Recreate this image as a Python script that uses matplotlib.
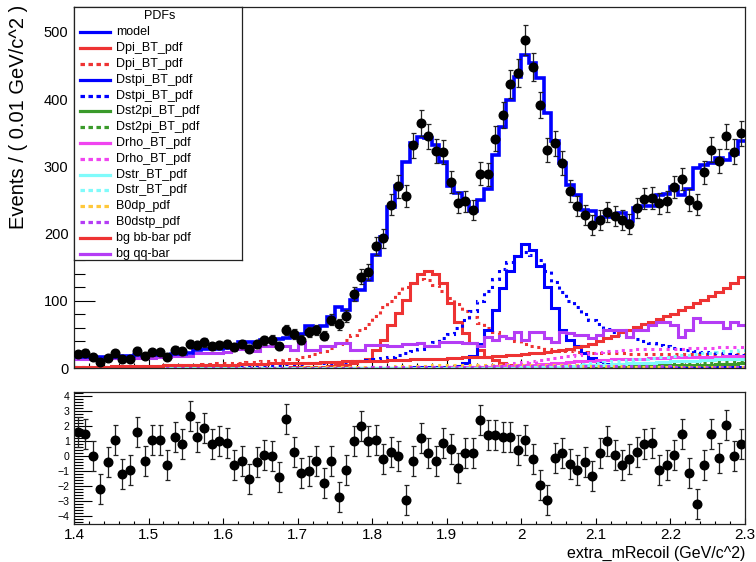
import numpy as np
import matplotlib
matplotlib.use("Agg")
import matplotlib.pyplot as plt
from matplotlib.ticker import MultipleLocator, FuncFormatter

plt.rcParams['font.family'] = ['Liberation Sans', 'DejaVu Sans']

# ---------------------------------------------------------------- data ----
x_lo, x_hi, n_bins = 1.4, 2.3, 90
edges = np.round(np.linspace(x_lo, x_hi, n_bins + 1), 4)
centers = 0.5 * (edges[:-1] + edges[1:])

data = [21, 23, 17, 9, 15, 22, 13, 14, 26, 18,
        24, 24, 16, 27, 25, 35, 34, 38, 32, 34,
        35, 31, 36, 29, 35, 41, 42, 32, 56, 51,
        42, 54, 57, 48, 72, 65, 77, 110, 136, 143,
        182, 193, 243, 270, 256, 331, 364, 345, 323, 321,
        277, 246, 248, 235, 289, 288, 341, 377, 422, 439,
        488, 448, 391, 324, 334, 305, 263, 241, 228, 213,
        220, 232, 226, 220, 214, 238, 252, 253, 245, 248,
        269, 281, 250, 243, 291, 325, 308, 345, 322, 349]

model = [16, 16, 16, 16, 17, 17, 18, 18, 19, 19,
         19, 19, 19, 21, 21, 22, 27, 28, 28, 29,
         30, 34, 38, 38, 37, 41, 42, 43, 44, 49,
         50, 62, 60, 62, 76, 91, 86, 101, 116, 131,
         168, 195, 240, 270, 307, 335, 344, 342, 332, 307,
         270, 260, 247, 233, 250, 267, 317, 359, 399, 433,
         466, 453, 431, 379, 337, 305, 272, 257, 235, 233,
         218, 225, 228, 230, 218, 238, 241, 241, 257, 259,
         269, 257, 267, 297, 302, 305, 312, 310, 319, 337]

dpi_bt = [0, 0, 0, 0, 0, 0, 0, 0, 0, 0,
          0, 0, 0, 0, 0, 0, 0, 0, 0, 0,
          0, 0, 0, 0, 0, 0, 0, 0, 0, 1,
          1, 1, 2, 2, 3, 4, 5, 7, 10, 14,
          27, 42, 64, 82, 101, 126, 140, 145, 140, 126,
          97, 69, 52, 37, 27, 17, 12, 8, 5, 3,
          2, 2, 1, 1, 1, 0, 0, 0, 0, 0,
          0, 0, 0, 0, 0, 0, 0, 0, 0, 0,
          0, 0, 0, 0, 0, 0, 0, 0, 0, 0]

dpi_bt_alt = [1, 1, 1, 2, 2, 2, 2, 3, 3, 3,
              3, 3, 4, 4, 4, 5, 5, 6, 6, 7,
              7, 8, 8, 9, 9, 10, 11, 12, 13, 14,
              16, 18, 21, 25, 30, 36, 42, 49, 57, 66,
              78, 90, 100, 111, 120, 127, 132, 131, 124, 114,
              104, 95, 85, 76, 67, 59, 53, 48, 44, 40,
              36, 33, 31, 29, 27, 26, 25, 24, 24, 23,
              23, 22, 22, 22, 21, 21, 21, 21, 21, 21,
              21, 21, 21, 21, 21, 21, 21, 21, 21, 21]

dstpi_bt = [0, 0, 0, 0, 0, 0, 0, 0, 0, 0,
            0, 0, 0, 0, 0, 0, 0, 0, 0, 0,
            0, 0, 0, 0, 0, 0, 0, 0, 0, 0,
            0, 0, 0, 0, 0, 0, 0, 0, 0, 0,
            0, 0, 0, 0, 0, 1, 1, 1, 1, 1,
            1, 3, 8, 18, 35, 56, 87, 119, 145, 166,
            184, 176, 151, 121, 89, 57, 42, 32, 22, 15,
            10, 6, 4, 3, 2, 2, 1, 1, 1, 1,
            1, 1, 1, 1, 1, 1, 1, 1, 1, 1]

dstpi_bt_alt = [1, 1, 1, 1, 1, 1, 1, 1, 2, 2,
                2, 2, 2, 2, 2, 3, 3, 3, 3, 3,
                3, 4, 4, 4, 4, 5, 5, 5, 6, 6,
                6, 7, 7, 8, 8, 9, 9, 10, 11, 12,
                13, 15, 17, 19, 22, 25, 28, 33, 38, 44,
                50, 60, 72, 85, 100, 115, 133, 148, 158, 166,
                172, 168, 160, 145, 128, 113, 100, 90, 80, 72,
                65, 58, 53, 49, 46, 43, 40, 37, 34, 32,
                30, 28, 27, 25, 24, 23, 22, 21, 20, 19]

dst2pi_bt = [0, 0, 0, 0, 0, 0, 0, 0, 0, 0,
             0, 0, 0, 0, 0, 0, 0, 0, 0, 0,
             0, 0, 0, 0, 0, 0, 0, 0, 0, 0,
             0, 0, 0, 0, 0, 0, 0, 0, 0, 0,
             0, 0, 0, 0, 0, 0, 0, 0, 0, 0,
             0, 0, 0, 0, 0, 0, 0, 0, 0, 0,
             1, 1, 1, 1, 1, 1, 1, 2, 2, 2,
             2, 2, 2, 3, 3, 3, 3, 3, 4, 4,
             4, 4, 5, 5, 5, 5, 6, 6, 6, 7]

dst2pi_bt_alt = [0, 0, 0, 0, 0, 0, 0, 0, 0, 0,
                 0, 0, 0, 0, 0, 0, 0, 0, 0, 0,
                 0, 0, 0, 0, 0, 0, 0, 0, 0, 0,
                 0, 0, 0, 0, 0, 0, 0, 0, 0, 0,
                 0, 0, 0, 0, 0, 0, 0, 0, 0, 0,
                 1, 1, 1, 1, 1, 2, 2, 2, 2, 2,
                 3, 3, 3, 3, 4, 4, 4, 4, 5, 5,
                 5, 5, 6, 6, 6, 6, 7, 7, 7, 7,
                 8, 8, 8, 8, 8, 9, 9, 9, 9, 9]

drho_bt = [0, 0, 0, 0, 0, 0, 0, 0, 0, 0,
           0, 0, 0, 0, 0, 0, 0, 0, 0, 0,
           0, 0, 0, 0, 0, 0, 0, 0, 0, 0,
           0, 0, 0, 0, 0, 0, 0, 0, 0, 0,
           0, 0, 0, 0, 0, 0, 0, 0, 0, 0,
           1, 1, 1, 2, 2, 2, 3, 3, 3, 4,
           4, 5, 6, 6, 7, 8, 9, 10, 10, 11,
           12, 12, 13, 13, 14, 14, 14, 15, 15, 15,
           16, 16, 16, 17, 17, 17, 17, 18, 18, 18]

drho_bt_alt = [0, 0, 0, 0, 0, 0, 0, 0, 0, 0,
               0, 0, 0, 0, 0, 0, 0, 0, 0, 0,
               0, 0, 0, 0, 0, 0, 0, 0, 0, 0,
               0, 0, 0, 0, 0, 0, 0, 0, 0, 0,
               1, 1, 1, 1, 1, 1, 1, 1, 1, 1,
               1, 1, 2, 2, 3, 3, 4, 5, 6, 8,
               9, 11, 12, 14, 15, 16, 18, 20, 21, 22,
               24, 25, 26, 27, 27, 28, 28, 28, 29, 29,
               29, 29, 30, 30, 30, 30, 31, 31, 31, 31]

dstr_bt = [0, 0, 0, 0, 0, 0, 0, 0, 0, 0,
           0, 0, 0, 0, 0, 0, 0, 0, 0, 0,
           0, 0, 0, 0, 0, 0, 0, 0, 0, 0,
           0, 0, 0, 0, 0, 0, 0, 0, 0, 0,
           0, 0, 0, 0, 0, 0, 0, 0, 0, 0,
           0, 0, 0, 0, 0, 0, 0, 0, 0, 0,
           1, 1, 1, 2, 2, 2, 3, 3, 4, 4,
           5, 5, 6, 6, 7, 7, 8, 8, 9, 9,
           10, 10, 11, 11, 12, 12, 13, 13, 14, 14]

dstr_bt_alt = [0, 0, 0, 0, 0, 0, 0, 0, 0, 0,
               0, 0, 0, 0, 0, 0, 0, 0, 0, 0,
               0, 0, 0, 0, 0, 0, 0, 0, 0, 0,
               0, 0, 0, 0, 0, 0, 0, 0, 0, 0,
               0, 0, 0, 0, 0, 0, 0, 0, 0, 0,
               0, 0, 0, 0, 0, 0, 0, 0, 0, 0,
               1, 2, 2, 3, 3, 4, 5, 5, 6, 7,
               8, 9, 10, 11, 12, 13, 14, 15, 16, 17,
               18, 19, 20, 21, 22, 23, 24, 25, 26, 27]

b0dp = [0, 0, 0, 0, 0, 0, 0, 0, 0, 0,
        0, 0, 0, 0, 0, 0, 0, 0, 0, 0,
        0, 0, 0, 0, 0, 0, 0, 0, 0, 0,
        1, 1, 1, 1, 1, 1, 1, 2, 2, 2,
        2, 2, 2, 3, 3, 3, 3, 3, 4, 4,
        4, 4, 4, 5, 5, 5, 5, 5, 5, 5,
        5, 5, 5, 4, 4, 4, 4, 4, 3, 3,
        3, 3, 3, 3, 2, 2, 2, 2, 2, 2,
        2, 2, 2, 2, 1, 1, 1, 1, 1, 1]

b0dstp = [0, 0, 0, 0, 0, 0, 0, 0, 0, 0,
          0, 0, 0, 0, 0, 0, 0, 0, 0, 0,
          0, 0, 0, 0, 0, 0, 0, 0, 0, 0,
          0, 0, 0, 0, 0, 0, 0, 0, 0, 0,
          1, 1, 1, 1, 1, 1, 1, 1, 1, 2,
          2, 2, 2, 2, 2, 3, 3, 3, 3, 3,
          3, 3, 3, 3, 3, 3, 3, 3, 3, 3,
          3, 3, 3, 3, 3, 3, 3, 3, 3, 3,
          2, 2, 2, 2, 2, 2, 2, 2, 2, 2]

bg_bbbar = [2, 2, 2, 2, 2, 3, 3, 3, 3, 3,
            3, 3, 4, 4, 4, 4, 4, 5, 5, 5,
            5, 5, 6, 6, 6, 6, 7, 7, 7, 7,
            8, 8, 8, 9, 9, 9, 10, 10, 10, 11,
            11, 11, 12, 12, 12, 13, 13, 13, 14, 14,
            15, 15, 16, 16, 17, 17, 18, 18, 19, 20,
            21, 22, 23, 24, 25, 27, 29, 31, 33, 36,
            40, 44, 48, 53, 57, 61, 65, 69, 73, 77,
            81, 86, 91, 96, 101, 107, 113, 119, 126, 136]

bg_qqbar = [14, 14, 13, 14, 14, 15, 15, 15, 15, 16,
            15, 16, 16, 18, 18, 18, 23, 23, 22, 23,
            24, 29, 29, 28, 26, 33, 33, 32, 33, 27,
            39, 27, 27, 32, 32, 37, 37, 27, 27, 34,
            34, 34, 32, 32, 36, 36, 37, 33, 33, 38,
            39, 39, 37, 37, 33, 46, 42, 48, 44, 54,
            42, 54, 54, 44, 39, 54, 52, 49, 49, 44,
            49, 56, 56, 56, 46, 56, 56, 64, 69, 69,
            64, 46, 56, 74, 69, 69, 69, 59, 69, 64]

pulls = [1.6, 1.5, 0.0, -2.2, -0.4, 1.1, -1.2, -0.9, 1.6, -0.3,
         1.1, 1.1, -0.6, 1.3, 0.8, 2.7, 1.3, 1.9, 0.8, 1.0,
         0.9, -0.6, -0.3, -1.5, -0.4, 0.1, 0.0, -1.4, 2.5, 0.3,
         -1.1, -1.0, -0.3, -1.8, -0.3, -2.7, -0.9, 1.0, 2.0, 1.0,
         1.1, -0.2, 0.3, 0.0, -2.9, -0.3, 1.2, 0.2, -0.3, 0.9,
         0.5, -0.8, 0.2, 0.2, 2.4, 1.4, 1.4, 1.3, 1.3, 0.4,
         1.1, -0.2, -1.9, -2.9, -0.1, 0.2, -0.5, -0.9, -0.4, -1.3,
         0.2, 1.0, 0.1, -0.6, -0.2, 0.3, 0.8, 0.9, -0.9, -0.6,
         0.1, 1.5, -1.1, -3.2, -0.6, 1.5, -0.1, 2.1, 0.0, 0.8]

# ------------------------------------------------------------- styling ----
BLUE = '#0000ff'
RED = '#ee3333'
GREEN = '#3a9a2a'
MAGENTA = '#f044f0'
CYAN = '#80fbfb'
ORANGE = '#ffc83a'
PURPLE = '#b43cf5'
DOT = (0, (1.0, 1.5))
SOLID = '-'

# label, values, colour, line style, width (pt)
curves = [
    ('model', model, BLUE, SOLID, 2.6),
    ('Dpi_BT_pdf', dpi_bt, RED, SOLID, 2.2),
    ('Dpi_BT_pdf', dpi_bt_alt, RED, DOT, 2.2),
    ('Dstpi_BT_pdf', dstpi_bt, BLUE, SOLID, 2.2),
    ('Dstpi_BT_pdf', dstpi_bt_alt, BLUE, DOT, 2.2),
    ('Dst2pi_BT_pdf', dst2pi_bt, GREEN, SOLID, 2.2),
    ('Dst2pi_BT_pdf', dst2pi_bt_alt, GREEN, DOT, 2.2),
    ('Drho_BT_pdf', drho_bt, MAGENTA, SOLID, 2.2),
    ('Drho_BT_pdf', drho_bt_alt, MAGENTA, DOT, 2.2),
    ('Dstr_BT_pdf', dstr_bt, CYAN, SOLID, 2.2),
    ('Dstr_BT_pdf', dstr_bt_alt, CYAN, DOT, 2.2),
    ('B0dp_pdf', b0dp, ORANGE, DOT, 2.2),
    ('B0dstp_pdf', b0dstp, PURPLE, DOT, 2.2),
    ('bg bb-bar pdf', bg_bbbar, RED, SOLID, 2.2),
    ('bg qq-bar', bg_qqbar, PURPLE, SOLID, 2.2),
]

W, H = 756, 562
fig = plt.figure(figsize=(W / 100, H / 100), dpi=100)


def box(left, top, right, bottom):
    return [left / W, 1 - bottom / H, (right - left) / W, (bottom - top) / H]


ax = fig.add_axes(box(74, 7, 745, 368))
axp = fig.add_axes(box(74, 392, 745, 524))

# ---------------------------------------------------------- main panel ----
draw_order = curves[1:] + curves[:1]
for label, vals, col, ls, lw in draw_order:
    ax.stairs(vals, edges, baseline=None, color=col, linestyle=ls,
              linewidth=lw, zorder=2)

data_arr = np.array(data, dtype=float)
ax.errorbar(centers, data_arr, yerr=np.sqrt(data_arr), fmt='o', color='black',
            ms=6.2, ecolor='#222222', elinewidth=0.9, capsize=1.8,
            capthick=0.9, zorder=4)

ax.set_xlim(x_lo, x_hi)
ax.set_ylim(0, 537)
ax.xaxis.set_major_locator(MultipleLocator(0.1))
ax.xaxis.set_minor_locator(MultipleLocator(0.02))
ax.yaxis.set_major_locator(MultipleLocator(100))
ax.yaxis.set_minor_locator(MultipleLocator(20))
ax.tick_params(which='both', direction='in', top=False, right=False,
               labelbottom=False, color='black', width=0.8)
ax.tick_params(axis='y', which='major', length=15, labelsize=10.5, pad=4)
ax.tick_params(axis='y', which='minor', length=8)
ax.tick_params(axis='x', which='major', length=6.5)
ax.tick_params(axis='x', which='minor', length=3.5)
for sp in ax.spines.values():
    sp.set_linewidth(0.9)
    sp.set_color('#222222')

fig.text(19 / W, 1 - 117 / H, 'Events / ( 0.01 GeV/c^2 )', rotation=90,
         ha='center', va='center', fontsize=14.5)

# ---------------------------------------------------------- pull panel ----
axp.errorbar(centers, pulls, yerr=1.0, fmt='o', color='black', ms=6.2,
             ecolor='#222222', elinewidth=0.9, capsize=1.8, capthick=0.9)
axp.set_xlim(x_lo, x_hi)
axp.set_ylim(-4.5, 4.28)
axp.xaxis.set_major_locator(MultipleLocator(0.1))
axp.xaxis.set_minor_locator(MultipleLocator(0.02))
axp.yaxis.set_major_locator(MultipleLocator(1))
axp.yaxis.set_minor_locator(MultipleLocator(0.2))
axp.xaxis.set_major_formatter(
    FuncFormatter(lambda v, p: ('%.1f' % v).rstrip('0').rstrip('.')))
axp.tick_params(which='both', direction='in', top=False, right=False,
                color='black', width=0.8)
axp.tick_params(axis='y', which='major', length=13, labelsize=7.6, pad=3)
axp.tick_params(axis='y', which='minor', length=6.5)
axp.tick_params(axis='x', which='major', length=4.5, labelsize=11, pad=3)
axp.tick_params(axis='x', which='minor', length=2.2)
for sp in axp.spines.values():
    sp.set_linewidth(0.9)
    sp.set_color('#222222')

fig.text(745 / W, 1 - 553 / H, 'extra_mRecoil (GeV/c^2)', ha='right',
         va='center', fontsize=11.5)

# -------------------------------------------------------------- legend ----
lg = fig.add_axes(box(74, 7, 242, 260))
lg.set_zorder(5)
lg.set_facecolor('white')
lg.set_xlim(0, 168)
lg.set_ylim(253, 0)
lg.set_xticks([])
lg.set_yticks([])
for sp in lg.spines.values():
    sp.set_linewidth(0.9)
    sp.set_color('#222222')
lg.text(86, 8.7, 'PDFs', ha='center', va='center', fontsize=9)
row0, pitch = 25.3, 15.8
for k, (label, vals, col, ls, lw) in enumerate(curves):
    y = row0 + k * pitch
    lg.plot([6, 36], [y, y], color=col, linewidth=2.3,
            linestyle=(0, (1.4, 1.1)) if ls != SOLID else SOLID)
    lg.text(41.7, y, label, ha='left', va='center', fontsize=9)

fig.savefig('out.png', dpi=100)
